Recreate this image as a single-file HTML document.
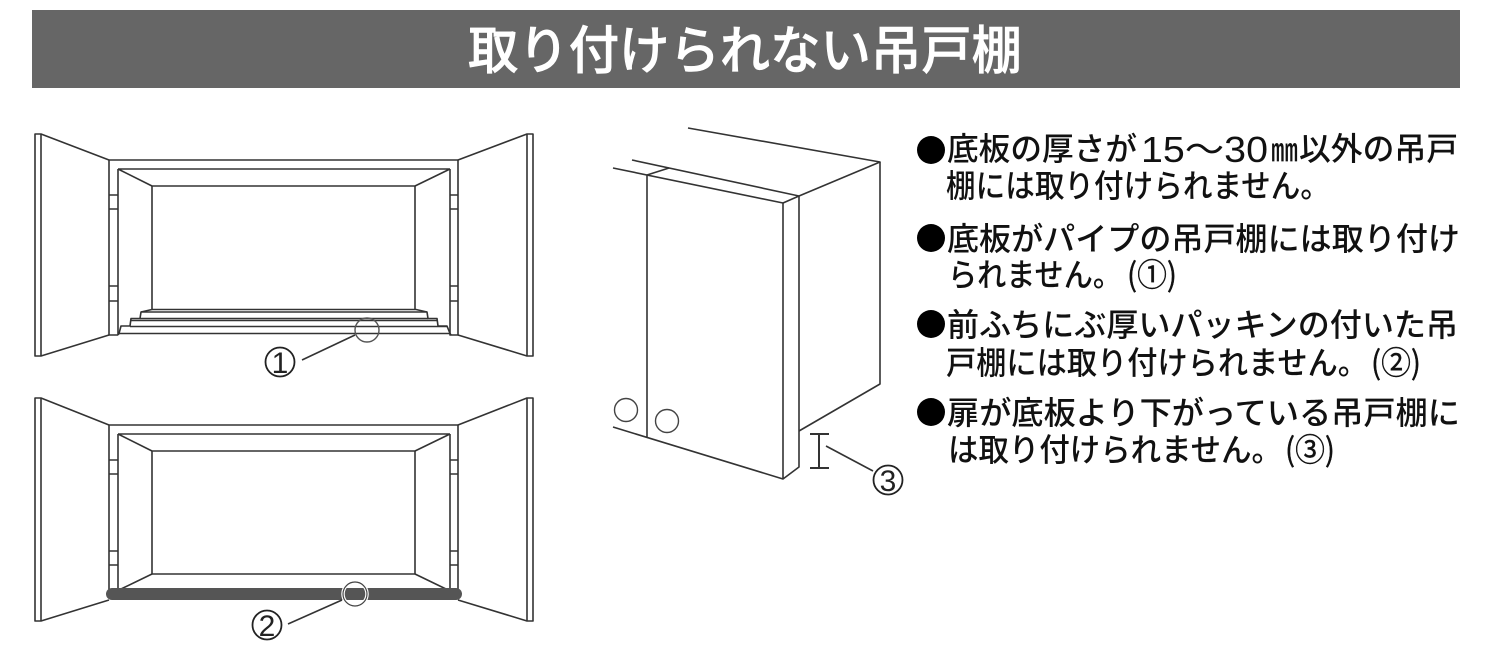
<!DOCTYPE html>
<html lang="ja">
<head>
<meta charset="utf-8">
<style>
html,body{margin:0;padding:0;background:#fff;width:1500px;height:650px;overflow:hidden}
svg{display:block}
text{font-family:"Liberation Sans","Noto Sans CJK JP",sans-serif}
.t{font-size:32px;font-weight:500;fill:#111}
.c{font-size:32px;font-weight:400;fill:#111;stroke:#111;stroke-width:.4;font-family:"Noto Sans CJK JP",sans-serif}
.d{font-size:36px;fill:#111}
.n{font-size:30px;fill:#222;text-anchor:middle}
.l{fill:none;stroke:#333;stroke-width:1.6;stroke-linejoin:round}
</style>
</head>
<body>
<svg width="1500" height="650" viewBox="0 0 1500 650" xmlns="http://www.w3.org/2000/svg">
<rect x="32" y="10" width="1428" height="78" fill="#666"/>
<text x="468" y="69" fill="#fff" stroke="#fff" stroke-width="0.6" textLength="554" lengthAdjust="spacingAndGlyphs" style="font-size:52px;font-weight:500">取り付けられない吊戸棚</text>

<!-- top cabinet -->
<g class="l">
<path d="M109 160 L41 134 H35 V356 H41 L109 335"/>
<path d="M41 134 V356"/>
<path d="M109 160 H458 M109 160 V335 H118 M118 169 V335"/>
<path d="M118 169 H450 M118 169 L152 186 H415 L450 169"/>
<path d="M152 186 V309 M415 186 V309"/>
<path d="M109 195 H118 M109 209 H118 M109 286 H118 M109 301 H118"/>
<path d="M450 169 V335 H458 V160 M450 195 H458 M450 209 H458 M450 286 H458 M450 301 H458"/>
<path d="M458 160 L527 134 H533 V356 H527 L458 335 M527 134 V356"/>
<path d="M152 309.5 H416 L427 312 L428 318.5 H437 L438 326 H447 L450 333.5 L451 335"/>
<path d="M152 309.5 L141 312 L140 318.5 H131 L130 326 H121 L119 333.5 L118 335"/>
<path d="M141 312 H427 M140 318.5 H428 M131 320.5 H437 M130 326.5 H447 M119 333.5 H450"/>
</g>
<circle cx="367" cy="330" r="12" fill="none" stroke="#555" stroke-width="1.4"/>
<path class="l" d="M302 360 L355 335"/>
<circle cx="280" cy="362" r="14.5" fill="none" stroke="#222" stroke-width="1.8"/>
<text class="n" x="280" y="373">1</text>

<!-- lower cabinet -->
<g class="l">
<path d="M109 425 L41 398 H35 V621 H41 L109 600"/>
<path d="M41 398 V621"/>
<path d="M109 425 H458 M109 425 V590 M118 434 V590"/>
<path d="M118 434 H450 M118 434 L152 451 H415 L450 434"/>
<path d="M152 451 V574 H415 V451"/>
<path d="M152 574 L121 589 M415 574 L446 589"/>
<path d="M109 460 H118 M109 474 H118 M109 551 H118 M109 565 H118"/>
<path d="M450 434 V590 M458 425 V590 M450 460 H458 M450 474 H458 M450 551 H458 M450 565 H458"/>
<path d="M458 425 L527 398 H533 V621 H527 L458 600 M527 398 V621"/>
</g>
<rect x="106" y="588" width="356" height="12" rx="6" fill="#555"/>
<circle cx="355" cy="594" r="12" fill="none" stroke="#fff" stroke-width="3.5"/>
<circle cx="355" cy="594" r="12" fill="none" stroke="#444" stroke-width="1.2"/>
<path class="l" d="M288 624 L342 600"/>
<circle cx="267" cy="625" r="14.5" fill="none" stroke="#222" stroke-width="1.8"/>
<text class="n" x="267" y="636">2</text>

<!-- side view -->
<g class="l">
<path d="M688 128 L880 162 L799 196 L783 203 M632 160 L799 196 M613 168 L783 203"/>
<path d="M647 175 L669 168"/>
<path d="M647 175 V438 M783 203 V479 M799 196 V467 L783 479 L613 427"/>
<path d="M880 162 V384 L799 431"/>
<path d="M810 434 H829 M819 434 V468 M810 468 H829" stroke-width="2"/>
<path d="M826 446 L873 471"/>
</g>
<circle cx="626" cy="410" r="11.5" fill="none" stroke="#444" stroke-width="1.4"/>
<circle cx="667" cy="421" r="11.5" fill="none" stroke="#444" stroke-width="1.4"/>
<circle cx="888" cy="480" r="14.5" fill="none" stroke="#222" stroke-width="1.8"/>
<text class="n" x="888" y="491">3</text>

<!-- bullets -->
<circle cx="931" cy="150" r="14" fill="#000"/>
<circle cx="931" cy="238" r="14" fill="#000"/>
<circle cx="931" cy="324" r="14" fill="#000"/>
<circle cx="931" cy="412" r="14" fill="#000"/>

<!-- text -->
<text class="t" x="947" y="160" textLength="190" lengthAdjust="spacingAndGlyphs">底板の厚さが</text>
<text class="d" x="1141" y="162" textLength="127" lengthAdjust="spacingAndGlyphs">15～30</text>
<text class="t" x="1271" y="161" textLength="27" lengthAdjust="spacingAndGlyphs">㎜</text>
<text class="t" x="1299" y="160" textLength="159" lengthAdjust="spacingAndGlyphs">以外の吊戸</text>
<text class="t" x="946" y="197" textLength="384" lengthAdjust="spacingAndGlyphs">棚には取り付けられません。</text>
<text class="t" x="947" y="250" textLength="513" lengthAdjust="spacingAndGlyphs">底板がパイプの吊戸棚には取り付け</text>
<text class="t" x="948" y="286" textLength="174" lengthAdjust="spacingAndGlyphs">られません。</text>
<text class="c" x="1127" y="286" textLength="50" lengthAdjust="spacingAndGlyphs">(①)</text>
<text class="t" x="947" y="336" textLength="511" lengthAdjust="spacingAndGlyphs">前ふちにぶ厚いパッキンの付いた吊</text>
<text class="t" x="946" y="374" textLength="422" lengthAdjust="spacingAndGlyphs">戸棚には取り付けられません。</text>
<text class="c" x="1371" y="374" textLength="50" lengthAdjust="spacingAndGlyphs">(②)</text>
<text class="t" x="947" y="424" textLength="513" lengthAdjust="spacingAndGlyphs">扉が底板より下がっている吊戸棚に</text>
<text class="t" x="948" y="461" textLength="334" lengthAdjust="spacingAndGlyphs">は取り付けられません。</text>
<text class="c" x="1285" y="461" textLength="50" lengthAdjust="spacingAndGlyphs">(③)</text>
</svg>
</body>
</html>
